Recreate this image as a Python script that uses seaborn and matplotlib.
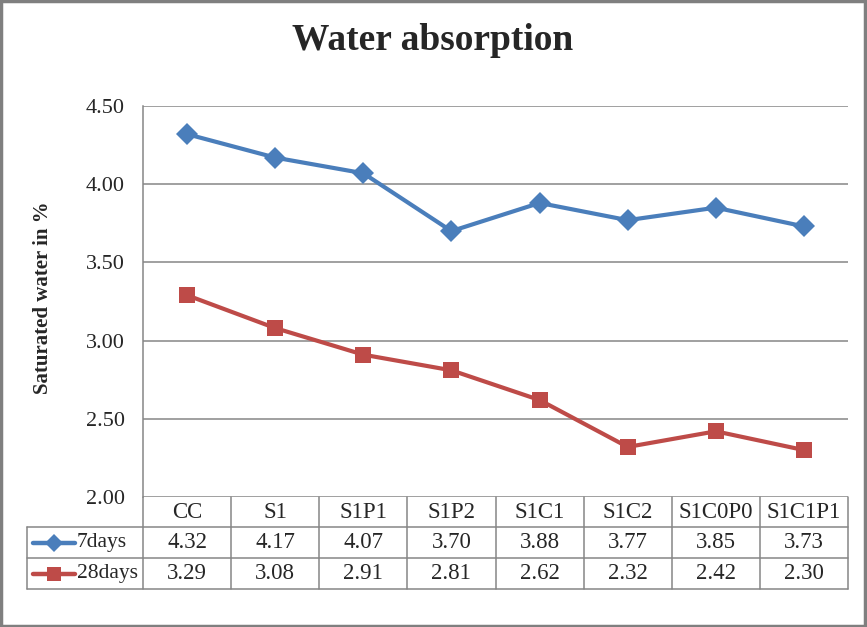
import matplotlib
matplotlib.use("Agg")
import matplotlib.pyplot as plt
import matplotlib.transforms as mtrans
from matplotlib.lines import Line2D
from matplotlib.patches import Rectangle
import seaborn as sns
import pandas as pd

# ---- data ----
categories = ["CC", "S1", "S1P1", "S1P2", "S1C1", "S1C2", "S1C0P0", "S1C1P1"]
days7 = [4.32, 4.17, 4.07, 3.70, 3.88, 3.77, 3.85, 3.73]
days28 = [3.29, 3.08, 2.91, 2.81, 2.62, 2.32, 2.42, 2.30]
series_names = ["7days", "28days"]
yticks = [2.00, 2.50, 3.00, 3.50, 4.00, 4.50]

title = "Water absorption"
ylabel = "Saturated water in %"

blue = "#4A7EBB"
red = "#BE4B48"
grid_c = "#868686"

sns.set_style("white")
plt.rcParams["font.family"] = ["Liberation Serif", "DejaVu Serif"]

W, H = 867, 627
fig = plt.figure(figsize=(W / 100, H / 100), dpi=100)

def fx(px):
    return px / W

def fy(py):
    return 1 - py / H

left, right, top, bottom = 143, 848, 106, 497
ax = fig.add_axes([fx(left), fy(bottom), fx(right - left), (bottom - top) / H])

pos = list(range(len(categories)))
df = pd.DataFrame({
    "x": pos * 2,
    "value": days7 + days28,
    "series": [series_names[0]] * len(pos) + [series_names[1]] * len(pos),
})
sns.lineplot(data=df[df.series == "7days"], x="x", y="value", color=blue,
             marker="D", markersize=11, markeredgewidth=0, linewidth=3,
             legend=False, sort=False, ax=ax)
sns.lineplot(data=df[df.series == "28days"], x="x", y="value", color=red,
             marker="s", markersize=11.5, markeredgewidth=0, linewidth=3,
             legend=False, sort=False, ax=ax)

ax.set_xlim(-0.5, len(categories) - 0.5)
ax.set_ylim(2.0, 4.5)
ax.set_yticks(yticks)
ax.set_yticklabels([f"{v:.2f}" for v in yticks], fontsize=16)
ax.set_xticks([])
ax.set_xlabel("")
ax.set_ylabel("")
ax.tick_params(axis="y", length=0, pad=13)
for y in yticks:
    ax.axhline(y, color=grid_c, lw=1.1, zorder=0)
for s in ["top", "right", "bottom"]:
    ax.spines[s].set_visible(False)
ax.spines["left"].set_color(grid_c)
ax.spines["left"].set_linewidth(1.1)

# ---- title and y label ----
fig.text(fx(433), fy(40), title, ha="center", va="center",
         fontsize=27, fontweight="bold")
fig.text(fx(43), fy(298), ylabel, ha="center", va="center",
         rotation=90, fontsize=15, fontweight="bold")

# ---- data table ----
bt = mtrans.blended_transform_factory(ax.transData, fig.transFigure)
row_tops = [497, 527, 558, 589]
tlc = grid_c
tlw = 1.1
n = len(categories)
for i in range(n + 1):
    fig.add_artist(Line2D([i - 0.5, i - 0.5], [fy(row_tops[0]), fy(row_tops[-1])],
                          transform=bt, color=tlc, lw=tlw))
for r in row_tops[1:]:
    fig.add_artist(Line2D([fx(27), fx(right)], [fy(r), fy(r)],
                          transform=fig.transFigure, color=tlc, lw=tlw))
fig.add_artist(Line2D([fx(27), fx(27)], [fy(row_tops[1]), fy(row_tops[-1])],
                      transform=fig.transFigure, color=tlc, lw=tlw))

tfs = 16.5
for i, c in enumerate(categories):
    fig.text(i, fy((row_tops[0] + row_tops[1]) / 2), c, transform=bt,
             ha="center", va="center", fontsize=tfs)
for vals, ri in ((days7, 1), (days28, 2)):
    yc = fy((row_tops[ri] + row_tops[ri + 1]) / 2)
    for i, v in enumerate(vals):
        fig.text(i, yc, f"{v:.2f}", transform=bt, ha="center", va="center",
                 fontsize=tfs)

for name, col, mk, ms, ri in ((series_names[0], blue, "D", 9, 1),
                              (series_names[1], red, "s", 10.5, 2)):
    yc = fy((row_tops[ri] + row_tops[ri + 1]) / 2)
    fig.add_artist(Line2D([fx(33), fx(75)], [yc, yc], transform=fig.transFigure,
                          color=col, lw=3.2))
    fig.add_artist(Line2D([fx(54)], [yc], transform=fig.transFigure, color=col,
                          marker=mk, markersize=ms, markeredgewidth=0, lw=0))
    fig.text(fx(77), yc, name, ha="left", va="center", fontsize=15.5)

# figure border
fig.add_artist(Rectangle((0.0015, 0.002), 0.996, 0.996, transform=fig.transFigure,
                         fill=False, edgecolor="#7f7f7f", lw=2.5))

fig.savefig("out.png", dpi=100)
